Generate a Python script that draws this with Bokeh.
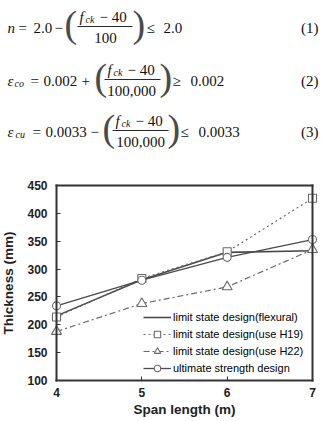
from bokeh.plotting import figure
from bokeh.models import Range1d, Legend, LegendItem, FixedTicker, LinearAxis
from bokeh.embed import file_html
from bokeh.resources import INLINE
from bokeh.core.properties import value

# ---------------- data ----------------
span = [4, 5, 6, 7]
flexural = [216, 281, 330, 333]
use_h19 = [214, 283, 331, 427]
use_h22 = [188, 238, 268, 335]
ultimate = [234, 280, 321, 353]
x_ticks = [4, 5, 6, 7]
y_ticks = [100, 150, 200, 250, 300, 350, 400, 450]
names = ["limit state design(flexural)", "limit state design(use H19)",
         "limit state design(use H22)", "ultimate strength design"]
x_lim = (4, 7)
y_lim = (100, 450)

SERIF = value("Liberation Serif")
SANS = "Liberation Sans"

# canvas and the plot box inside it (pixels)
W, H = 322, 421
BOX_L, BOX_R, BOX_T, BOX_B = 56, 312, 185, 380
kx = (x_lim[1] - x_lim[0]) / (BOX_R - BOX_L)
ky = (y_lim[1] - y_lim[0]) / (BOX_B - BOX_T)
x_start = x_lim[0] - BOX_L * kx
y_end = y_lim[1] + BOX_T * ky

p = figure(width=W, height=H,
           x_range=Range1d(x_start, x_lim[1] + (W - BOX_R) * kx),
           y_range=Range1d(y_lim[0] - (H - BOX_B) * ky, y_end),
           output_backend="svg", toolbar_location=None, min_border=0,
           x_axis_type=None, y_axis_type=None)
p.grid.visible = False
p.outline_line_color = None


def dx(X):
    return x_start + X * kx


def dy(Y):
    return y_end - Y * ky


# ---------------- equations ----------------
def t(X, Y, s, size=15, style="normal", align="left", color="#111111"):
    p.text(x=[dx(X)], y=[dy(Y)], text=[s], text_font=SERIF, text_font_size=f"{size}px",
           text_font_style=style, text_baseline="middle", text_align=align,
           text_color=color)


def frac_line(x0, x1, Y):
    p.segment(x0=[dx(x0)], y0=[dy(Y)], x1=[dx(x1)], y1=[dy(Y)],
              line_color="#111111", line_width=0.9)


def equation(m, lhs, sub, sub_x, eq_x, const, const_x, op, op_x, lp_x, num_x,
             line, den, den_cx, rp_x, rel, rel_x, rhs, rhs_x, tag):
    t(7, m, lhs, style="italic")
    if sub:
        t(sub_x, m + 3, sub, size=10, style="italic")
    t(eq_x, m, "=")
    t(const_x, m, const)
    t(op_x, m, op)
    t(lp_x, m - 4, "(", size=38, color="#4a4a4a")
    t(num_x, m - 11, "f", style="italic")
    t(num_x + 6, m - 8, "ck", size=10, style="italic")
    t(num_x + 20, m - 11, "\u2212 40")
    frac_line(line[0], line[1], m - 1)
    t(den_cx, m + 10, den, align="center")
    t(rp_x, m - 4, ")", size=38, color="#4a4a4a")
    t(rel_x, m, rel)
    t(rhs_x, m, rhs)
    t(318, m, tag, align="right")


equation(27, "n", None, 0, 18, "2.0", 33, "\u2212", 54, 64, 79, (77, 132), "100", 105,
         132, "\u2264", 146, "2.0", 163, "(1)")
equation(80, "\u03b5", "co", 14, 30, "0.002", 43, "+", 81, 94, 107, (104, 160), "100,000", 131,
         159, "\u2265", 172, "0.002", 190, "(2)")
equation(131, "\u03b5", "cu", 15, 32, "0.0033", 45, "\u2212", 90, 102, 115, (112, 168), "100,000", 140,
         167, "\u2264", 180, "0.0033", 198, "(3)")

# ---------------- axes (placed at the box edges) ----------------
AX = "#333333"


def style_axis(ax, ticks):
    ax.ticker = FixedTicker(ticks=ticks)
    ax.axis_line_color = AX
    ax.axis_line_width = 2
    ax.axis_line_cap = "square"
    ax.major_tick_in = 4
    ax.major_tick_out = 0
    ax.minor_tick_in = 0
    ax.minor_tick_out = 0
    ax.minor_tick_line_color = None
    ax.major_tick_line_color = AX
    ax.major_tick_line_width = 1
    ax.major_label_text_font = SANS
    ax.major_label_text_font_size = "12px"
    ax.major_label_text_font_style = "bold"
    ax.major_label_text_color = "#222222"
    ax.axis_label_text_font = SANS
    ax.axis_label_text_font_size = "13.5px"
    ax.axis_label_text_font_style = "bold"
    ax.axis_label_text_color = "#222222"


xa = LinearAxis(fixed_location=y_lim[0], bounds=x_lim, axis_label="Span length (m)",
                major_label_standoff=7, axis_label_standoff=2)
style_axis(xa, x_ticks)
p.add_layout(xa, "below")

ya = LinearAxis(fixed_location=x_lim[0], bounds=y_lim, axis_label="Thickness (mm)",
                major_label_standoff=9, axis_label_standoff=8)
style_axis(ya, y_ticks)
p.add_layout(ya, "left")

top = LinearAxis(fixed_location=y_lim[1], bounds=x_lim)
style_axis(top, [])
top.major_tick_in = 0
top.major_label_text_font_size = "0px"
p.add_layout(top, "above")

right = LinearAxis(fixed_location=x_lim[1], bounds=y_lim)
style_axis(right, [])
right.major_tick_in = 0
right.major_label_text_font_size = "0px"
p.add_layout(right, "right")

# ---------------- series ----------------
c1, c2 = "#4a4a4a", "#6a6a6a"
r1 = p.line(span, flexural, line_color=c1, line_width=1.6)
r2 = p.line(span, use_h19, line_color=c2, line_width=1.2, line_dash="2 3")
m2 = p.scatter(span, use_h19, marker="square", size=8, fill_color="white", line_color=c2, line_width=1.1)
r3 = p.line(span, use_h22, line_color=c2, line_width=1.2, line_dash="6 3 2 3")
m3 = p.scatter(span, use_h22, marker="triangle", size=10, fill_color="white", line_color=c2, line_width=1.1)
r4 = p.line(span, ultimate, line_color=c1, line_width=1.3)
m4 = p.scatter(span, ultimate, marker="circle", size=8, fill_color="white", line_color=c2, line_width=1.1)

legend = Legend(items=[LegendItem(label=names[0], renderers=[r1]),
                       LegendItem(label=names[1], renderers=[r2, m2]),
                       LegendItem(label=names[2], renderers=[r3, m3]),
                       LegendItem(label=names[3], renderers=[r4, m4])],
                location=(143, H - 376), padding=0, margin=0, spacing=1,
                glyph_width=28, glyph_height=16, label_height=16, label_standoff=2,
                label_text_font=SANS, label_text_font_size="11px", label_text_color="#000000",
                border_line_color=None, background_fill_alpha=0)
p.add_layout(legend)

open("out.html", "w").write(file_html(p, INLINE))
